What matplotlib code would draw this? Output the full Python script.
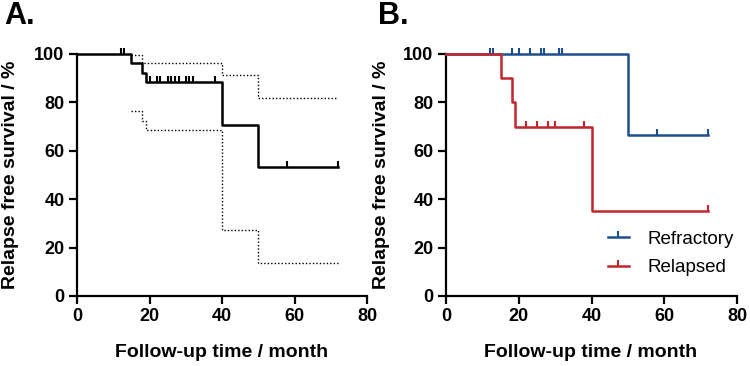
import numpy as np
import matplotlib
matplotlib.use("Agg")
import matplotlib.pyplot as plt
from matplotlib.lines import Line2D

plt.rcParams['font.family'] = ['Liberation Sans', 'DejaVu Sans']

# Panel A - whole cohort (step times / survival in %)
a_times = [0, 15, 18, 19, 40, 50, 72]
a_surv = [100, 96.2, 92.3, 88.5, 70.8, 53.1, 53.1]
a_censor = [12, 13, 20, 22, 23, 25, 26, 27, 28, 30, 31, 32, 38, 58, 72]
# 95% CI bands
a_up_times = [15, 18, 40, 50, 72]
a_up = [99.5, 96.2, 91.2, 81.7, 81.7]
a_lo_times = [15, 18, 19, 40, 50, 72]
a_lo = [76.5, 72.5, 68.6, 27.2, 13.8, 13.8]

# Panel B - by group
ref_times = [0, 50, 72]
ref_surv = [100, 66.7, 66.7]
ref_censor = [12, 13, 18, 20, 23, 26, 27, 31, 32, 58, 72]
rel_times = [0, 15, 18, 19, 40, 72]
rel_surv = [100, 90, 80, 70, 35, 35]
rel_censor = [22, 25, 28, 30, 38, 72]

group_names = ['Refractory', 'Relapsed']
blue = '#1d4e8f'
red = '#c1272d'


def surv_at(times, surv, t):
    # value of the step function at time t
    idx = np.searchsorted(times, t, side='right') - 1
    return np.array(surv)[idx]


def km_plot(ax, times, surv, censor, color, lw=1.8):
    ax.step(times, surv, where='post', color=color, lw=lw, clip_on=False, zorder=3)
    ax.plot(censor, surv_at(times, surv, censor), ls='none', marker=2,
            ms=4, mew=1.5, color=color, clip_on=False, zorder=3)


def style_axes(ax):
    ax.set_xlim(0, 80)
    ax.set_ylim(0, 100)
    ax.set_xticks([0, 20, 40, 60, 80])
    ax.set_yticks([0, 20, 40, 60, 80, 100])
    for s in ['top', 'right']:
        ax.spines[s].set_visible(False)
    for s in ['left', 'bottom']:
        ax.spines[s].set_linewidth(1.6)
    ax.tick_params(direction='out', length=6, width=1.6, labelsize=13, pad=3)
    for lab in ax.get_xticklabels() + ax.get_yticklabels():
        lab.set_fontweight('bold')


fig = plt.figure(figsize=(7.5, 3.66), dpi=100)
axA = fig.add_axes([0.1027, 0.1913, 0.3867, 0.6612])
axB = fig.add_axes([0.5947, 0.1913, 0.3880, 0.6612])

# Panel A
axA.step(a_up_times, a_up, where='post', color='black', lw=1.0, ls=(0, (1, 1.5)), zorder=2)
axA.step(a_lo_times, a_lo, where='post', color='black', lw=1.0, ls=(0, (1, 1.5)), zorder=2)
km_plot(axA, a_times, a_surv, a_censor, 'black')
style_axes(axA)

# Panel B
km_plot(axB, ref_times, ref_surv, ref_censor, blue)
km_plot(axB, rel_times, rel_surv, rel_censor, red)
style_axes(axB)

handles = [Line2D([], [], color=blue, lw=1.8, marker=2, ms=4, mew=1.5),
           Line2D([], [], color=red, lw=1.8, marker=2, ms=4, mew=1.5)]
axB.legend(handles, group_names, loc='center left', bbox_to_anchor=(0.557, 0.176),
           borderpad=0, borderaxespad=0, frameon=False, fontsize=13.5,
           handlelength=1.1, handletextpad=1.0, labelspacing=0.6)

# labels
for x in [11 / 750, 381 / 750]:
    fig.text(x, 0.522, 'Relapse free survival / %', rotation=90, ha='center',
             va='center', fontsize=14, fontweight='bold')
for x in [222 / 750, 591 / 750]:
    fig.text(x, 0.038, 'Follow-up time / month', ha='center', va='center',
             fontsize=14, fontweight='bold')
fig.text(4 / 750, 1 - 16 / 366, 'A.', ha='left', va='center', fontsize=22, fontweight='bold')
fig.text(378 / 750, 1 - 16 / 366, 'B.', ha='left', va='center', fontsize=22, fontweight='bold')

fig.savefig('out.png', dpi=100)
